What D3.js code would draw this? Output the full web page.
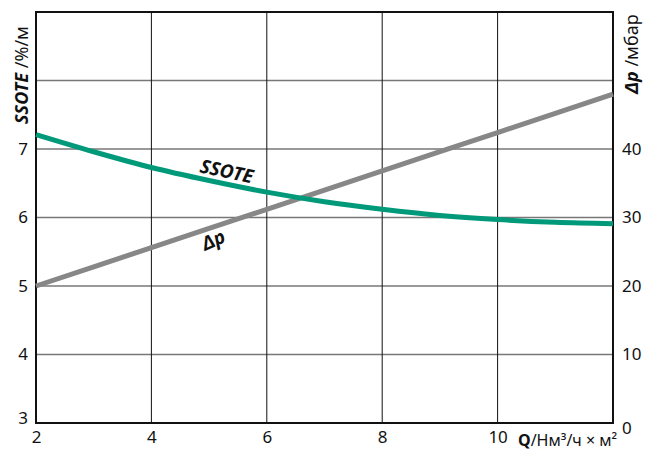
<!DOCTYPE html>
<meta charset="utf-8">
<head>
<style>
  body { margin: 0; background: #fff; }
  svg text { font-family: "Noto Sans", "DejaVu Sans", sans-serif; fill: #111; }
</style>
</head>
<body>
<div class="chart"></div>
<script src="https://d3js.org/d3.v7.min.js" charset="utf-8"></script>
<script>
const flowQ = [2, 3, 4, 5, 6, 7, 8, 9, 10, 11, 12];
const ssote = [7.21, 6.96, 6.73, 6.54, 6.37, 6.23, 6.12, 6.03, 5.97, 5.93, 5.91];
const deltaP = [20, 22.8, 25.6, 28.4, 31.2, 34, 36.8, 39.6, 42.4, 45.2, 48];
const xTicks = [2, 4, 6, 8, 10];
const leftTicks = [3, 4, 5, 6, 7];
const rightTicks = [0, 10, 20, 30, 40];

const W = 657, H = 451;
const margin = { top: 12, right: 44, bottom: 28, left: 36 };
const width = W - margin.left - margin.right;
const height = H - margin.top - margin.bottom;

const svg = d3.select('.chart').append('svg')
  .attr('width', W)
  .attr('height', H);

const g = svg.append('g')
  .attr('transform', `translate(${margin.left}, ${margin.top})`);

const x = d3.scaleLinear().domain([2, 12]).range([0, width]);
const yL = d3.scaleLinear().domain([3, 9]).range([height, 0]);
const yR = d3.scaleLinear().domain([0, 60]).range([height, 0]);

// grid
g.selectAll('.hgrid').data(d3.range(4, 9))
  .enter().append('line')
  .attr('x1', 0).attr('x2', width)
  .attr('y1', d => yL(d)).attr('y2', d => yL(d))
  .attr('stroke', '#777').attr('stroke-width', 1.3);

g.selectAll('.vgrid').data([4, 6, 8, 10])
  .enter().append('line')
  .attr('y1', 0).attr('y2', height)
  .attr('x1', d => x(d)).attr('x2', d => x(d))
  .attr('stroke', '#111').attr('stroke-width', 1);

// frame
g.append('rect')
  .attr('width', width).attr('height', height)
  .attr('fill', 'none').attr('stroke', '#111').attr('stroke-width', 2);

// tick labels
g.append('g')
  .attr('transform', `translate(0, ${height})`)
  .call(d3.axisBottom(x).tickValues(xTicks).tickSize(0).tickPadding(8).tickFormat(d3.format('d')))
  .call(a => a.select('.domain').remove())
  .selectAll('text').style('font-size', '17px').attr('fill', '#111');

g.append('g')
  .call(d3.axisLeft(yL).tickValues(leftTicks).tickSize(0).tickPadding(8).tickFormat(d3.format('d')))
  .call(a => a.select('.domain').remove())
  .selectAll('text').style('font-size', '17px').attr('fill', '#111')
  .attr('dy', d => d === 3 ? '0.05em' : '0.32em');

g.append('g')
  .attr('transform', `translate(${width}, 0)`)
  .call(d3.axisRight(yR).tickValues(rightTicks).tickSize(0).tickPadding(9).tickFormat(d3.format('d')))
  .call(a => a.select('.domain').remove())
  .selectAll('text').style('font-size', '17px').attr('fill', '#111')
  .attr('dy', d => d === 0 ? '0.6em' : '0.32em');

// lines
const lineL = d3.line().x((d, i) => x(flowQ[i])).y(d => yL(d)).curve(d3.curveMonotoneX);
const lineR = d3.line().x((d, i) => x(flowQ[i])).y(d => yR(d));

g.append('path').datum(deltaP)
  .attr('d', lineR)
  .attr('fill', 'none').attr('stroke', '#878787').attr('stroke-width', 5);

g.append('path').datum(ssote)
  .attr('d', lineL)
  .attr('fill', 'none').attr('stroke', '#009a7a').attr('stroke-width', 5);

// in-plot labels
g.append('text')
  .attr('transform', `translate(${x(5.28)}, ${yL(6.58)}) rotate(12)`)
  .attr('text-anchor', 'middle')
  .style('font-size', '19px').style('font-weight', 'bold').style('font-style', 'italic')
  .text('SSOTE');

g.append('text')
  .attr('transform', `translate(${x(5.12)}, ${yR(25.8)}) rotate(-24)`)
  .attr('text-anchor', 'middle')
  .style('font-size', '19px').style('font-weight', 'bold').style('font-style', 'italic')
  .text('Δp');

// axis titles
const lt = svg.append('text')
  .attr('transform', `translate(28, 75) rotate(-90)`)
  .attr('text-anchor', 'middle')
  .style('font-size', '18px');
lt.append('tspan').style('font-weight', 'bold').style('font-style', 'italic').text('SSOTE');
lt.append('tspan').text(' /%/м');

const rt = svg.append('text')
  .attr('transform', `translate(638, 54) rotate(-90)`)
  .attr('text-anchor', 'middle')
  .style('font-size', '18px');
rt.append('tspan').style('font-weight', 'bold').style('font-style', 'italic').text('Δp');
rt.append('tspan').text(' /мбар');

const bt = svg.append('text')
  .attr('x', 518).attr('y', 446)
  .style('font-size', '16px');
bt.append('tspan').style('font-weight', 'bold').text('Q');
bt.append('tspan').text('/Нм³/ч × м²');
</script>
</body>
